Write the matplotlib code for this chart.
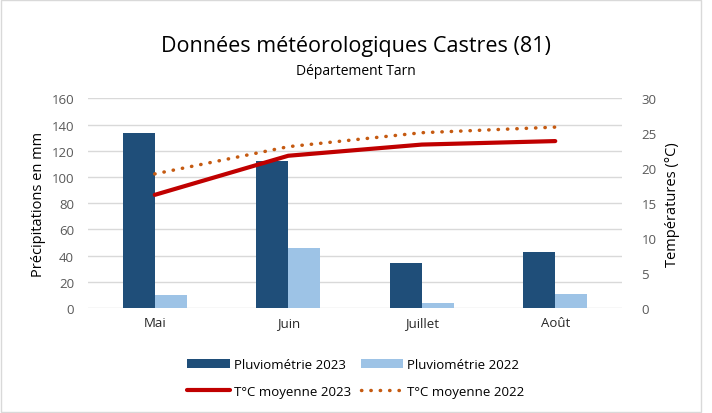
"""Données météorologiques Castres : pluviométrie et températures moyennes"""

import matplotlib.pyplot as plt
import numpy as np
from matplotlib.patches import Rectangle

plt.rcParams['font.family'] = ['Open Sans', 'DejaVu Sans']

# Data
mois = ["Mai", "Juin", "Juillet", "Août"]
pluie_2023 = [134, 112, 34, 43]
pluie_2022 = [10, 46, 4, 11]
temp_2023 = [16.2, 21.8, 23.4, 23.9]
temp_2022 = [19.2, 23.1, 25.1, 25.9]

fig = plt.figure(figsize=(7.12, 4.14), dpi=100)
ax = fig.add_axes([0.1236, 0.2536, 0.75, 0.5061])
ax2 = ax.twinx()

x = np.arange(len(mois))
w = 0.24
b1 = ax.bar(x - w / 2, pluie_2023, w, color="#1f4e79", label="Pluviométrie 2023", zorder=2)
b2 = ax.bar(x + w / 2, pluie_2022, w, color="#9dc3e6", label="Pluviométrie 2022", zorder=2)

l1, = ax2.plot(x, temp_2023, color="#c00000", lw=3, solid_capstyle="round", label="T°C moyenne 2023")
l2, = ax2.plot(x, temp_2022, color="#c55a11", lw=2.5, linestyle=(0, (0.1, 2.6)),
               dash_capstyle="round", label="T°C moyenne 2022")

# Axes
ax.set_xlim(-0.5, 3.5)
ax.set_ylim(0, 160)
ax.set_yticks(range(0, 161, 20))
ax2.set_ylim(0, 30)
ax2.set_yticks(range(0, 31, 5))
ax.set_xticks(x)
ax.set_xticklabels(mois, fontsize=9.5, color="#262626")
ax.grid(axis="y", color="#d9d9d9", lw=1, zorder=0)
ax.set_axisbelow(True)
for a in (ax, ax2):
    for s in a.spines.values():
        s.set_visible(False)
    a.tick_params(length=0, labelsize=9.5, labelcolor="#595959")
ax.tick_params(axis="x", labelcolor="#262626", pad=6)
ax.tick_params(axis="y", pad=10)
ax2.tick_params(axis="y", pad=14)
ax.set_ylabel("Précipitations en mm", fontsize=10.5, labelpad=4)
ax2.set_ylabel("Températures (°C)", fontsize=10.5, labelpad=6)

# Title
fig.text(0.5, 0.874, "Données météorologiques Castres (81)", ha="center", fontsize=15.5)
fig.text(0.5, 0.82, "Département Tarn", ha="center", fontsize=10)

# Legend
fig.legend([b1, l1, b2, l2],
           ["Pluviométrie 2023", "T°C moyenne 2023", "Pluviométrie 2022", "T°C moyenne 2022"],
           ncol=2, loc="center", bbox_to_anchor=(0.5, 0.085), frameon=False,
           fontsize=9.5, handlelength=3.2, handletextpad=0.3, columnspacing=0.8,
           labelspacing=1.05)

# Chart border
fig.patches.append(Rectangle((0.002, 0.002), 0.983, 0.995, transform=fig.transFigure,
                             fill=False, edgecolor="#d9d9d9", lw=1))

fig.savefig("out.png", dpi=100)
